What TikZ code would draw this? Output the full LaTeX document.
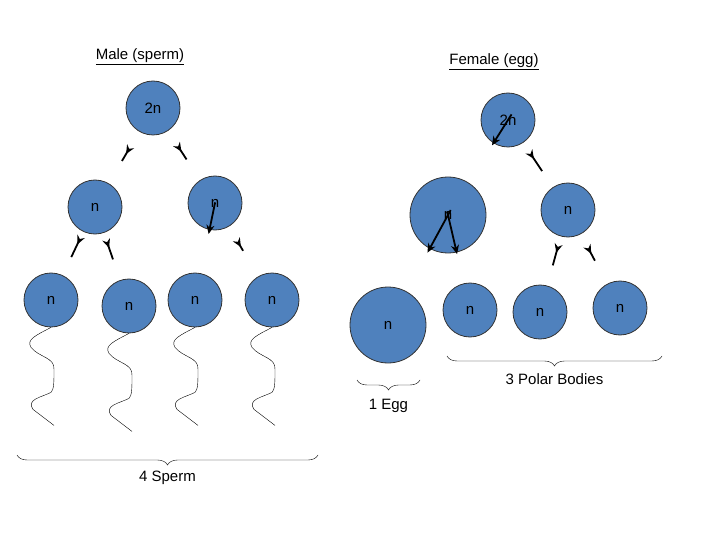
\documentclass[tikz,border=0pt]{standalone}
\usepackage{fontspec}
\setmainfont{Liberation Sans}
\usetikzlibrary{arrows.meta,decorations.pathreplacing}
\definecolor{cellblue}{HTML}{4F81BD}
\tikzset{cell/.style={circle, fill=cellblue, draw=black!80, thick, minimum size=54pt, inner sep=0pt, font=\fontsize{15}{15}\selectfont},
  bigcell/.style={cell, minimum size=76pt},
  myarrow/.style={-{Stealth[length=9pt, width=8pt]}, line width=1.8pt, shorten <=34pt, shorten >=34pt},
  mybrace/.style={decorate, decoration={brace, amplitude=10pt}, thin},
  lbl/.style={font=\fontsize{15}{15}\selectfont},
  tail/.pic={\draw[thin] (0,0) .. controls (-15,8) and (-25,12) .. (-20,20)
     .. controls (-12,30) and (4,30) .. (3,42) .. controls (3,55) and (3,62) .. (0,65)
     .. controls (-10,70) and (-25,72) .. (-18,82) -- (3,98);}}
\begin{document}
\begin{tikzpicture}[x=1pt, y=-1pt]
    \useasboundingbox (0,0) rectangle (720,540);

    \node[lbl] (male) at (140,57) {\underline{Male (sperm)}};
    \node[lbl] (female) at (494,62) {\underline{Female (egg)}};

    % male side
    \node[cell] (m0) at (153,108) {2n};
    \node[cell] (m1) at (95,207) {n};
    \node[cell] (m2) at (215,203) {n};
    \node[cell] (s1) at (51,300) {n};
    \node[cell] (s2) at (129,306) {n};
    \node[cell] (s3) at (195,300) {n};
    \node[cell] (s4) at (272,300) {n};

    \draw[myarrow] (m0) -- (m1);
    \draw[myarrow] (m0) -- (m2);
    \draw[myarrow, shorten <=28pt] (m1) -- (s1);
    \draw[myarrow, shorten <=28pt] (m1) -- (s2);
    \draw[myarrow, shorten <=28pt, shorten >=40pt] (m2) -- (s3);
    \draw[myarrow, shorten <=28pt] (m2) -- (s4);

    \foreach \s in {s1,s2,s3,s4}
        \pic at (\s.south) {tail};

    \coordinate (b1) at (17,455);
    \coordinate (b2) at (318,455);
    \draw[mybrace] (b2) -- (b1) node[midway, below=12pt, lbl] (sperm) {4 Sperm};

    % female side
    \node[cell] (f0) at (508,120) {2n};
    \node[bigcell] (f1) at (448,215) {n};
    \node[cell] (f2) at (568,210) {n};
    \node[bigcell] (egg) at (388,325) {n};
    \node[cell] (p1) at (470,310) {n};
    \node[cell] (p2) at (540,312) {n};
    \node[cell] (p3) at (620,308) {n};

    \draw[myarrow, shorten >=44pt] (f0) -- (f1);
    \draw[myarrow] (f0) -- (f2);
    \draw[myarrow, shorten <=44pt, shorten >=44pt] (f1) -- (egg);
    \draw[myarrow, shorten <=42pt, shorten >=30pt] (f1) -- (p1);
    \draw[myarrow, shorten <=30pt, shorten >=34pt] (f2) -- (p2);
    \draw[myarrow, shorten <=30pt, shorten >=34pt] (f2) -- (p3);

    \coordinate (e1) at (357,380);
    \coordinate (e2) at (420,380);
    \draw[mybrace] (e2) -- (e1) node[midway, below=16pt, lbl] (eggl) {1 Egg};
    \coordinate (q1) at (447,356);
    \coordinate (q2) at (662,356);
    \draw[mybrace] (q2) -- (q1) node[midway, below=14pt, lbl] (polar) {3 Polar Bodies};
\end{tikzpicture}
\end{document}
